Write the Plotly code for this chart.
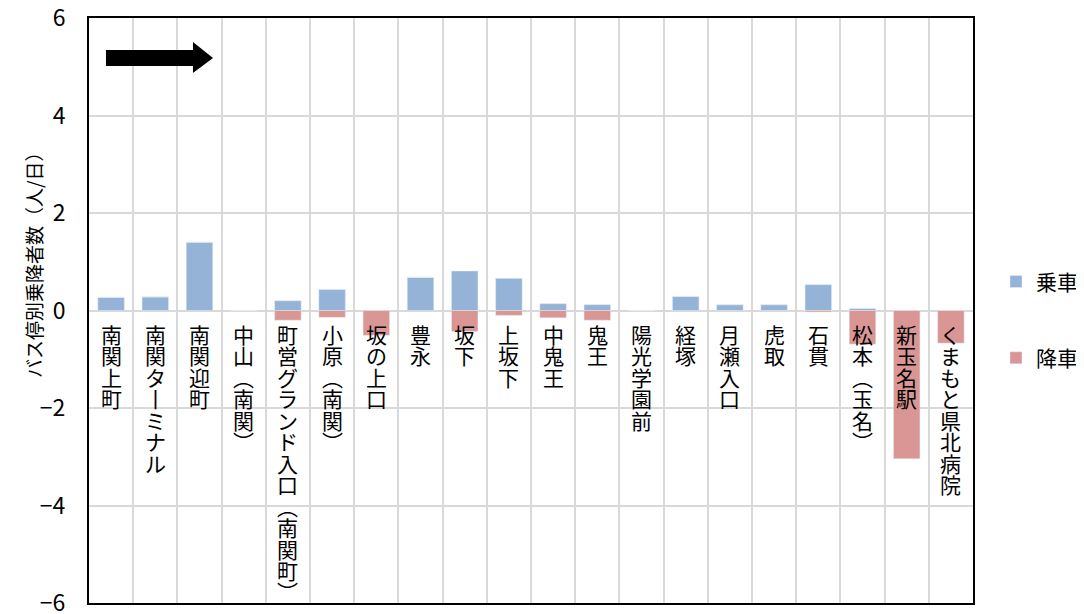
import plotly.graph_objects as go

categories = ["南関上町", "南関ターミナル", "南関迎町", "中山（南関）", "町営グランド入口（南関町）",
              "小原（南関）", "坂の上口", "豊永", "坂下", "上坂下", "中鬼王", "鬼王", "陽光学園前",
              "経塚", "月瀬入口", "虎取", "石貫", "松本（玉名）", "新玉名駅", "くまもと県北病院"]
boarding = [0.27, 0.28, 1.40, 0.0, 0.20, 0.43, 0.0, 0.68, 0.81, 0.66, 0.14, 0.12, 0.0,
            0.29, 0.12, 0.12, 0.53, 0.04, 0.0, 0.0]
alighting = [0.0, 0.0, 0.0, 0.0, -0.20, -0.14, -0.51, 0.0, -0.43, -0.10, -0.15, -0.20, 0.0,
             0.0, 0.0, 0.0, -0.03, -0.69, -3.04, -0.67]
series_names = ["乗車", "降車"]
y_tickvals = [-6, -4, -2, 0, 2, 4, 6]
y_title = "バス停別乗降者数（人/日）"

FONT = "Noto Sans CJK JP"
BLUE = "#95B3D7"
RED = "#DA9694"

fig = go.Figure()
fig.add_trace(go.Bar(x=categories, y=boarding, name=series_names[0], marker_color=BLUE,
                     width=0.6, legendgroup="a"))
fig.add_trace(go.Bar(x=categories, y=alighting, name=series_names[1], marker_color=RED,
                     width=0.6, legendgroup="b"))

# vertical (tategaki) category labels: one character per line
vmap = {"（": "︵", "）": "︶", "ー": "丨"}
annotations = []
for cat in categories:
    text = "<br>".join(f"<span style='font-size:21px'>{vmap.get(ch, ch)}</span>" for ch in cat)
    annotations.append(dict(
        x=cat, y=0, xref="x", yref="y", text=text, showarrow=False,
        yanchor="top", xanchor="center", yshift=-7, borderpad=0,
        font=dict(family=FONT, size=16.5, color="#000000")))

# y-axis title (placed like the original, above centre)
annotations.append(dict(
    x=-0.0633, y=0.5846, xref="paper", yref="paper", text=y_title, showarrow=False,
    textangle=-90, xanchor="center", yanchor="middle",
    font=dict(family=FONT, size=19, color="#000000")))

# direction arrow
x0, xh, xt = 0.0192, 0.1176, 0.1403
ys_t, ys_b = 0.9453, 0.9179
yh_t, yh_b, ym = 0.959, 0.906, 0.9316
arrow_path = (f"M{x0},{ys_t} L{xh},{ys_t} L{xh},{yh_t} L{xt},{ym} "
              f"L{xh},{yh_b} L{xh},{ys_b} L{x0},{ys_b} Z")

fig.update_layout(
    width=1076, height=606,
    margin=dict(l=81, r=111, t=10, b=11, autoexpand=False),
    paper_bgcolor="white", plot_bgcolor="white",
    barmode="relative",
    font=dict(family=FONT, size=20, color="#000000"),
    annotations=annotations,
    shapes=[dict(type="path", path=arrow_path, xref="paper", yref="paper",
                 fillcolor="black", line=dict(width=0))],
    legend=dict(x=1.026, y=0.484, xanchor="left", yanchor="middle",
                font=dict(family=FONT, size=21), tracegroupgap=46,
                traceorder="grouped", itemwidth=30, bgcolor="rgba(0,0,0,0)"),
    showlegend=True,
)
fig.update_xaxes(
    type="category", tickson="boundaries", showgrid=True, gridcolor="#D9D9D9", gridwidth=2,
    showticklabels=False, ticks="", showline=True, linecolor="black", linewidth=2, mirror=True,
    zeroline=False, automargin=False,
)
fig.update_yaxes(
    range=[-6, 6], tickvals=y_tickvals, showgrid=True, gridcolor="#D9D9D9", gridwidth=2,
    zeroline=False, showline=True, linecolor="black", linewidth=2, mirror=True,
    ticks="", ticklabelstandoff=17, tickfont=dict(family=FONT, size=23), automargin=False,
    ticklabeloverflow="allow",
)

fig.write_html("out.html")
